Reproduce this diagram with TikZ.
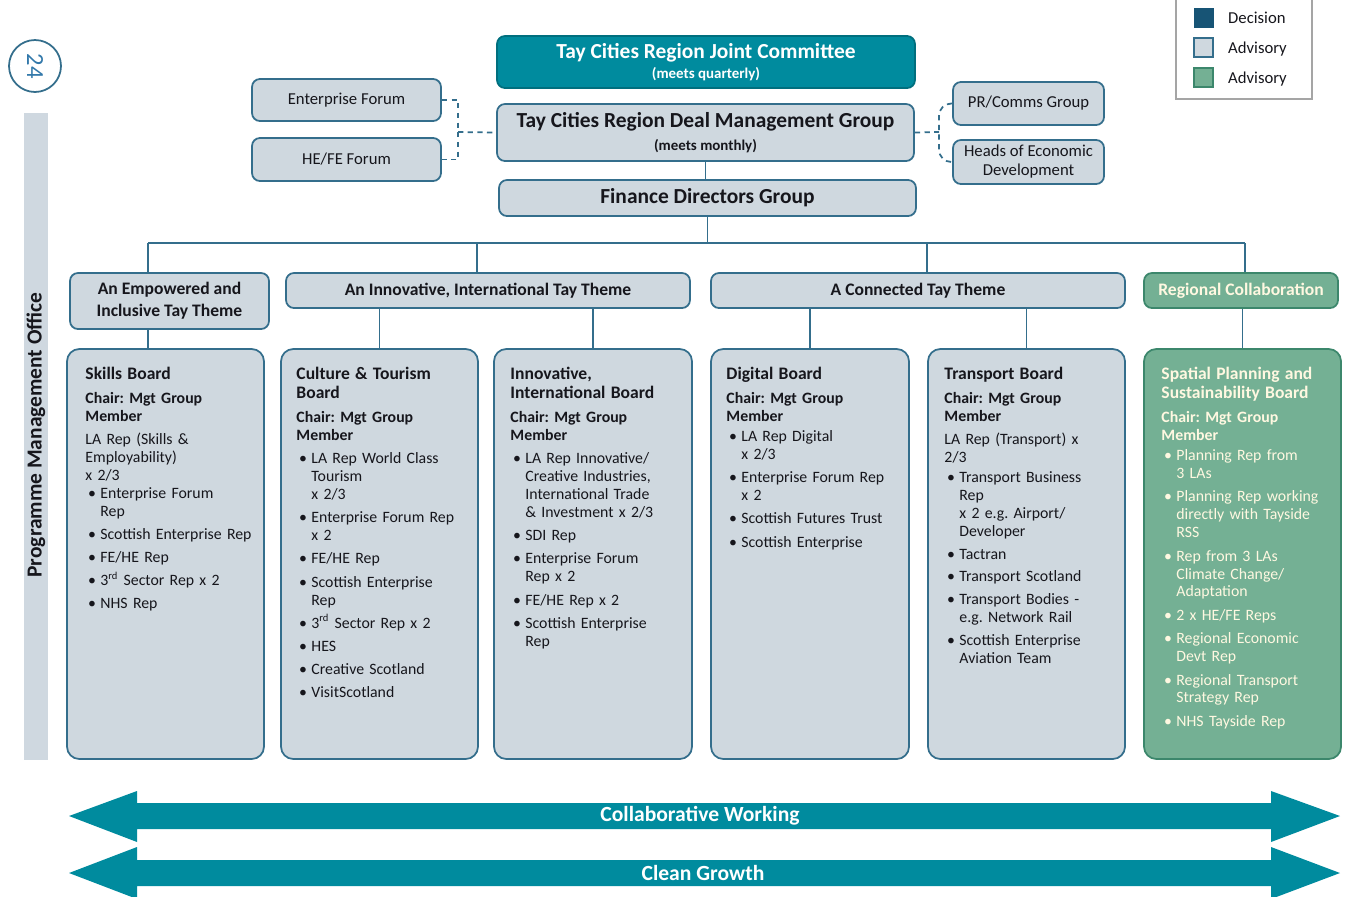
\documentclass[tikz,border=0pt]{standalone}
\usepackage{fontspec}
\setmainfont{Carlito}
\usetikzlibrary{fit}
\frenchspacing
\definecolor{edge}{RGB}{52,110,140}
\definecolor{boxgray}{RGB}{207,216,223}
\definecolor{teal}{RGB}{0,139,158}
\definecolor{green}{RGB}{116,176,148}
\definecolor{greenedge}{RGB}{60,135,108}
\definecolor{cream}{RGB}{255,248,225}
\definecolor{decision}{RGB}{23,84,117}
\definecolor{ink}{RGB}{22,22,28}
\definecolor{pagenum}{RGB}{50,120,170}
\definecolor{pmogray}{RGB}{207,216,224}
\definecolor{legendedge}{RGB}{165,165,165}
\newcommand\ttl[1]{{\fontsize{10}{10.8}\selectfont\bfseries #1\par}}
\newcommand\chr{\textbf{Chair: Mgt Group\newline Member}}
\newcommand\bi[2][3pt]{\par\vspace{#1}\hangindent=8.5pt\hangafter=1\noindent\makebox[8.5pt][l]{\hspace{1.5pt}\textbullet}#2\par}
\begin{document}
\begin{tikzpicture}[x=0.02cm,y=-0.02cm,
  box/.style={draw=edge, line width=1pt, fill=boxgray, rounded corners=4.5pt, inner sep=0pt, text=ink, align=center},
  board/.style={box, rounded corners=7pt},
  gboard/.style={board, fill=green, draw=greenedge},
  btext/.style={anchor=north west, inner sep=0pt, text width=3.9cm, align=left, text=ink,
    font=\fontsize{9}{10.2}\selectfont, execute at begin node={\setlength{\parindent}{0pt}}},
  small/.style={font=\fontsize{9.5}{10.8}\selectfont},
  theme/.style={box, font=\bfseries\fontsize{10}{12.5}\selectfont},
  link/.style={draw=edge, line width=1pt},
  dlink/.style={link, dash pattern=on 3pt off 2.5pt},
  band/.style={fill=teal, draw=none},
  bandtext/.style={text=white, font=\bfseries\fontsize{12.3}{14}\selectfont}]
\useasboundingbox (0,0) rectangle (1355,896);

% page number and PMO bar
\node[circle, draw=edge, line width=1pt, minimum size=1.04cm, inner sep=0pt, rotate=-90,
  text=pagenum, font=\fontsize{14}{14}\selectfont] (pg) at (35,66) {24};
\node[fill=pmogray, fit={(24,113) (48,760)}, inner sep=0pt] (pmo) {};
\node[rotate=90, text=ink, font=\bfseries\fontsize{12.2}{14}\selectfont] (pmoT) at (36,435) {Programme Management Office};

% legend
\node[draw=legendedge, line width=0.8pt, fit={(1176,-5) (1312,99)}, inner sep=0pt] (legend) {};
\node[fill=decision, draw=decision, fit={(1194,8) (1213,27)}, inner sep=0pt] (lg1) {};
\node[fill=boxgray, draw=edge, line width=0.8pt, fit={(1194,38) (1213,57)}, inner sep=0pt] (lg2) {};
\node[fill=green, draw=greenedge, line width=0.8pt, fit={(1194,68) (1213,87)}, inner sep=0pt] (lg3) {};
\node[anchor=base west, small, text=ink] (lt1) at (1222,23) {Decision};
\node[anchor=base west, small, text=ink] (lt2) at (1222,53) {Advisory};
\node[anchor=base west, small, text=ink] (lt3) at (1222,83) {Advisory};

% top governance
\node[box, fill=teal, draw=teal!80!black, text=white, minimum width=8.36cm, minimum height=1.04cm] (jc) at (706,62)
  {{\bfseries\fontsize{12.2}{13}\selectfont Tay Cities Region Joint Committee}\\[-1pt]{\bfseries\fontsize{8.5}{9}\selectfont (meets quarterly)}};
\node[box, minimum width=8.34cm, minimum height=1.14cm] (mg) at (705.5,132.5)
  {{\bfseries\fontsize{12.2}{13}\selectfont Tay Cities Region Deal Management Group}\\[1pt]{\bfseries\fontsize{8.5}{9}\selectfont (meets monthly)}};
\node[box, minimum width=8.34cm, minimum height=0.72cm, font=\bfseries\fontsize{12.2}{13}\selectfont] (fdg) at (707.5,198) {Finance Directors Group};

\node[box, small, minimum width=3.78cm, minimum height=0.84cm] (ef) at (346.5,100) {Enterprise Forum};
\node[box, small, minimum width=3.78cm, minimum height=0.86cm] (hefe) at (346.5,159.5) {HE/FE Forum};
\node[box, small, minimum width=3.02cm, minimum height=0.86cm] (prc) at (1028.5,103.5) {PR/Comms Group};
\node[box, font=\fontsize{9.5}{10.8}\selectfont, minimum width=3.02cm, minimum height=0.88cm] (heads) at (1028.5,162) {Heads of Economic\\Development};

% dashed advisory links
\coordinate (lj) at (458,132);
\coordinate (rj) at (939,132);
\draw[dlink] (ef.east) -| (lj) |- (hefe.east);
\draw[dlink] (lj) -- (mg.west);
\draw[dlink] (mg.east) -- (rj);
\draw[dlink, rounded corners=7pt] (prc.west) -| (rj) |- (heads.west);
\draw[link] (mg.south) -- (mg.south |- fdg.north);

% themes
\node[theme, minimum width=3.98cm, minimum height=1.12cm] (emp) at (169.5,301) {An Empowered and\\Inclusive Tay Theme};
\node[theme, minimum width=8.08cm, minimum height=0.7cm] (innT) at (488,290.5) {An Innovative, International Tay Theme};
\node[theme, minimum width=8.28cm, minimum height=0.7cm] (conT) at (918,290.5) {A Connected Tay Theme};
\node[theme, fill=green, draw=greenedge, text=cream, minimum width=3.88cm, minimum height=0.7cm] (regT) at (1241,290.5) {Regional Collaboration};

% bus
\coordinate (busL) at (148,243);
\coordinate (busR) at (1245,243);
\coordinate (d2) at (477,243);
\coordinate (d4) at (927,243);
\draw[link] (busL) -- (busR);
\draw[link] (fdg.south) -- (fdg.south |- busL);
\draw[link] (busL) -- (busL |- emp.north);
\draw[link] (d2) -- (d2 |- innT.north);
\draw[link] (d4) -- (d4 |- conT.north);
\draw[link] (busR) -- (busR |- regT.north);

% boards
\node[board, fit={(67,349) (264,759)}] (skills) {};
\node[board, fit={(281,349) (478,759)}] (cult) {};
\node[board, fit={(494,349) (692,759)}] (innB) {};
\node[board, fit={(711,349) (909,759)}] (dig) {};
\node[board, fit={(928,349) (1125,759)}] (trans) {};
\node[gboard, fit={(1144,349) (1341,759)}] (spat) {};

\draw[link] (busL |- emp.south) -- (busL |- skills.north);
\draw[link] (cult.north |- innT.south) -- (cult.north);
\draw[link] (innB.north |- innT.south) -- (innB.north);
\draw[link] (dig.north |- conT.south) -- (dig.north);
\draw[link] (trans.north |- conT.south) -- (trans.north);
\draw[link] (spat.north |- regT.south) -- (spat.north);

% board texts
\node[btext] (skillsT) at ([shift={(19,19)}]skills.north west) {%
\ttl{Skills Board}\vspace{3.4pt}
\chr\par\vspace{2.8pt}
LA Rep (Skills \&\newline Employability)\newline x 2/3\par
\bi[0pt]{Enterprise Forum\newline Rep}
\bi{Scottish Enterprise Rep}
\bi{FE/HE Rep}
\bi{3\textsuperscript{rd} Sector Rep x 2}
\bi{NHS Rep}};

\node[btext] (cultT) at ([shift={(16,19)}]cult.north west) {%
\ttl{Culture \& Tourism\newline Board}\vspace{3.4pt}
\chr\par
\bi{LA Rep World Class\newline Tourism\newline x 2/3}
\bi{Enterprise Forum Rep\newline x 2}
\bi{FE/HE Rep}
\bi{Scottish Enterprise\newline Rep}
\bi{3\textsuperscript{rd} Sector Rep x 2}
\bi{HES}
\bi{Creative Scotland}
\bi{VisitScotland}};

\node[btext] (innBT) at ([shift={(17,19)}]innB.north west) {%
\ttl{Innovative,\newline International Board}\vspace{3.4pt}
\chr\par
\bi{LA Rep Innovative/\newline Creative Industries,\newline International Trade\newline \& Investment x 2/3}
\bi{SDI Rep}
\bi{Enterprise Forum\newline Rep x 2}
\bi{FE/HE Rep x 2}
\bi{Scottish Enterprise\newline Rep}};

\node[btext] (digT) at ([shift={(16,19)}]dig.north west) {%
\ttl{Digital Board}\vspace{3.4pt}
\chr\par
\bi[1.2pt]{LA Rep Digital\newline x 2/3}
\bi{Enterprise Forum Rep\newline x 2}
\bi{Scottish Futures Trust}
\bi{Scottish Enterprise}};

\node[btext] (transT) at ([shift={(17,19)}]trans.north west) {%
\ttl{Transport Board}\vspace{3.4pt}
\chr\par\vspace{2.8pt}
LA Rep (Transport) x\newline 2/3\par
\bi[1.2pt]{Transport Business\newline Rep\newline x 2 e.g. Airport/\newline Developer}
\bi[2.8pt]{Tactran}
\bi[2.8pt]{Transport Scotland}
\bi[2.8pt]{Transport Bodies -\newline e.g. Network Rail}
\bi[2.8pt]{Scottish Enterprise\newline Aviation Team}};

\node[btext, text=cream] (spatT) at ([shift={(18,19)}]spat.north west) {%
\ttl{Spatial Planning and\newline Sustainability Board}\vspace{3.4pt}
\chr\par
\bi[1.2pt]{Planning Rep from\newline 3 LAs}
\bi[3.1pt]{Planning Rep working\newline directly with Tayside\newline RSS}
\bi[3.1pt]{Rep from 3 LAs\newline Climate Change/\newline Adaptation}
\bi[3.1pt]{2 x HE/FE Reps}
\bi[3.1pt]{Regional Economic\newline Devt Rep}
\bi[3.1pt]{Regional Transport\newline Strategy Rep}
\bi[3.1pt]{NHS Tayside Rep}};

% bands
\fill[band] (69,816) -- (137,791) -- (137,803) -- (1271,803) -- (1271,791) -- (1340,816)
  -- (1271,842) -- (1271,829) -- (137,829) -- (137,842) -- cycle;
\node[bandtext] (cw) at (700,816) {Collaborative Working};
\fill[band] (69,873) -- (137,847) -- (137,860) -- (1271,860) -- (1271,847) -- (1340,873)
  -- (1271,899) -- (1271,886) -- (137,886) -- (137,899) -- cycle;
\node[bandtext] (cg) at (703,873) {Clean Growth};
\end{tikzpicture}
\end{document}
